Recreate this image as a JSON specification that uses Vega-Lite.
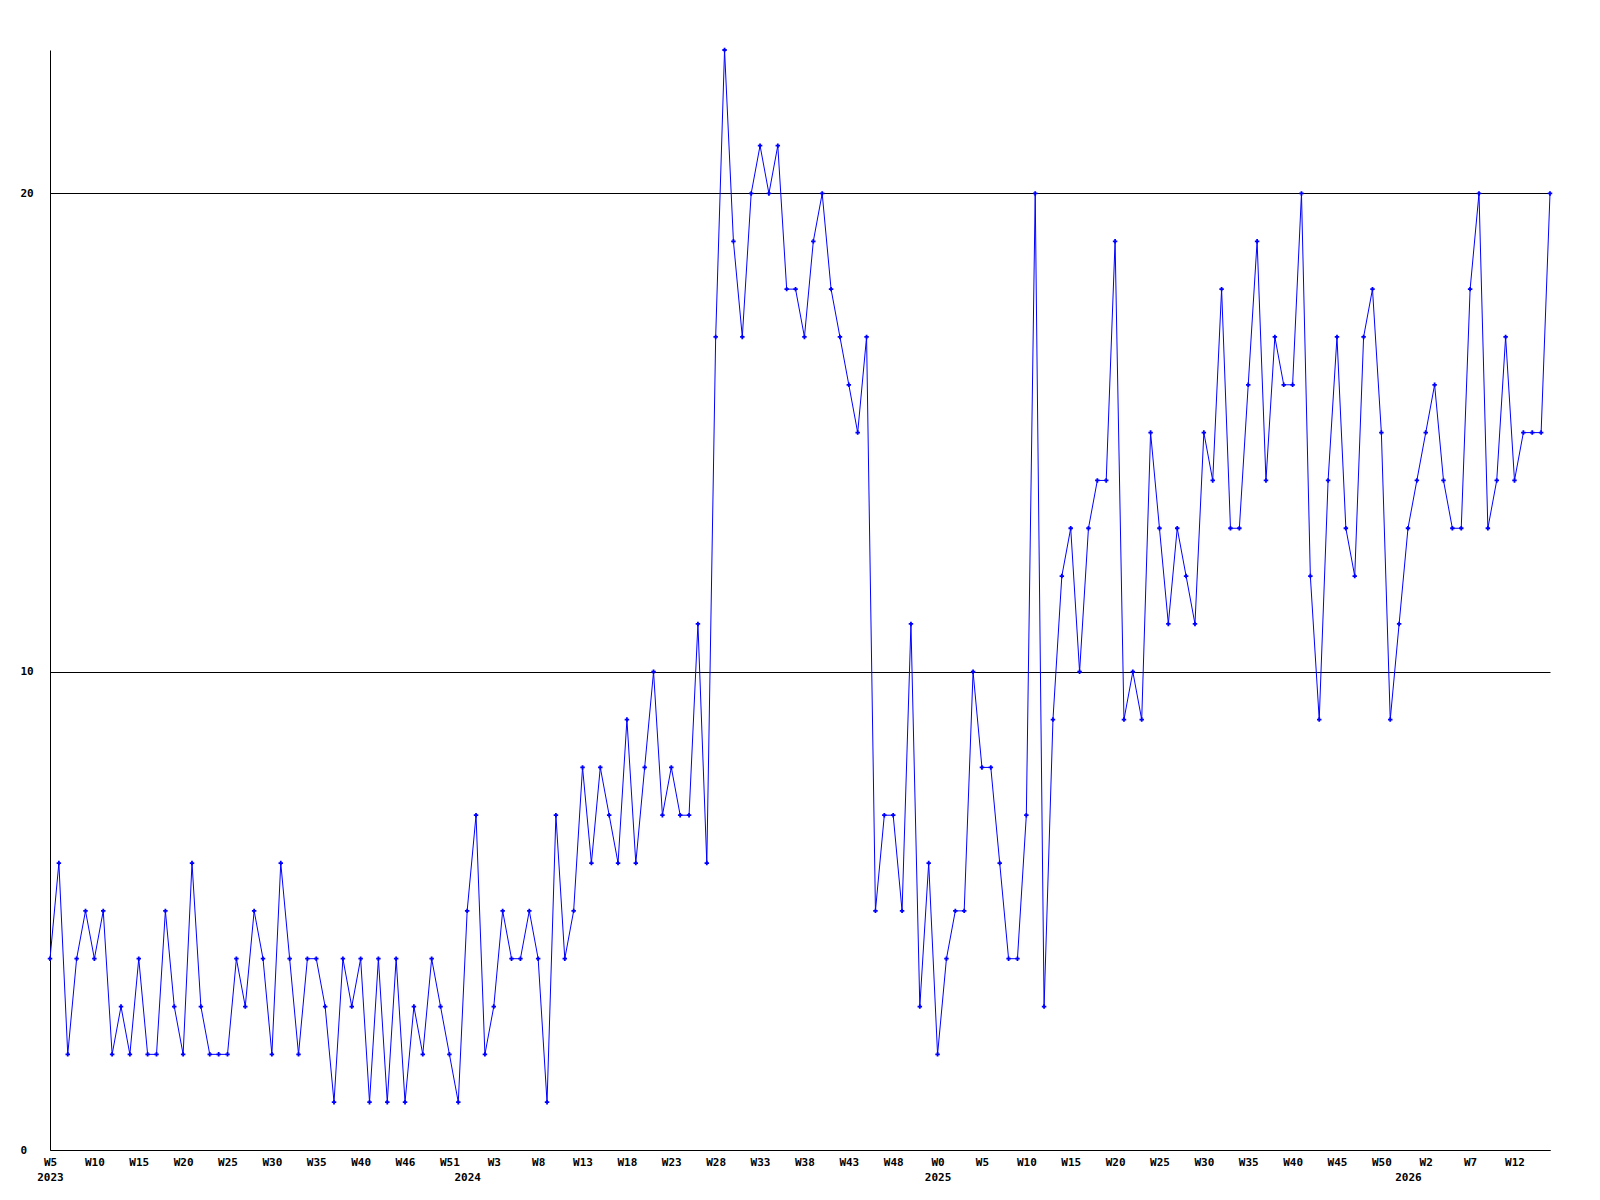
{
  "$schema": "https://vega.github.io/schema/vega-lite/v6.json",
  "width": 1500,
  "height": 1100,
  "autosize": {"type": "none"},
  "padding": {"left": 50, "top": 50, "right": 50, "bottom": 50},
  "background": "white",
  "config": {
    "view": {"stroke": null},
    "axis": {"labelFont": "DejaVu Sans Mono", "labelFontWeight": "bold", "labelFontSize": 11, "labelColor": "black"}
  },
  "data": {"values": [
    {"period": "2023-W05", "value": 4}, {"period": "2023-W06", "value": 6}, {"period": "2023-W07", "value": 2}, {"period": "2023-W08", "value": 4}, {"period": "2023-W09", "value": 5},
    {"period": "2023-W10", "value": 4}, {"period": "2023-W11", "value": 5}, {"period": "2023-W12", "value": 2}, {"period": "2023-W13", "value": 3}, {"period": "2023-W14", "value": 2},
    {"period": "2023-W15", "value": 4}, {"period": "2023-W16", "value": 2}, {"period": "2023-W17", "value": 2}, {"period": "2023-W18", "value": 5}, {"period": "2023-W19", "value": 3},
    {"period": "2023-W20", "value": 2}, {"period": "2023-W21", "value": 6}, {"period": "2023-W22", "value": 3}, {"period": "2023-W23", "value": 2}, {"period": "2023-W24", "value": 2},
    {"period": "2023-W25", "value": 2}, {"period": "2023-W26", "value": 4}, {"period": "2023-W27", "value": 3}, {"period": "2023-W28", "value": 5}, {"period": "2023-W29", "value": 4},
    {"period": "2023-W30", "value": 2}, {"period": "2023-W31", "value": 6}, {"period": "2023-W32", "value": 4}, {"period": "2023-W33", "value": 2}, {"period": "2023-W34", "value": 4},
    {"period": "2023-W35", "value": 4}, {"period": "2023-W36", "value": 3}, {"period": "2023-W37", "value": 1}, {"period": "2023-W38", "value": 4}, {"period": "2023-W39", "value": 3},
    {"period": "2023-W40", "value": 4}, {"period": "2023-W41", "value": 1}, {"period": "2023-W42", "value": 4}, {"period": "2023-W43", "value": 1}, {"period": "2023-W44", "value": 4},
    {"period": "2023-W46", "value": 1}, {"period": "2023-W47", "value": 3}, {"period": "2023-W48", "value": 2}, {"period": "2023-W49", "value": 4}, {"period": "2023-W50", "value": 3},
    {"period": "2023-W51", "value": 2}, {"period": "2023-W52", "value": 1}, {"period": "2024-W00", "value": 5}, {"period": "2024-W01", "value": 7}, {"period": "2024-W02", "value": 2},
    {"period": "2024-W03", "value": 3}, {"period": "2024-W04", "value": 5}, {"period": "2024-W05", "value": 4}, {"period": "2024-W06", "value": 4}, {"period": "2024-W07", "value": 5},
    {"period": "2024-W08", "value": 4}, {"period": "2024-W09", "value": 1}, {"period": "2024-W10", "value": 7}, {"period": "2024-W11", "value": 4}, {"period": "2024-W12", "value": 5},
    {"period": "2024-W13", "value": 8}, {"period": "2024-W14", "value": 6}, {"period": "2024-W15", "value": 8}, {"period": "2024-W16", "value": 7}, {"period": "2024-W17", "value": 6},
    {"period": "2024-W18", "value": 9}, {"period": "2024-W19", "value": 6}, {"period": "2024-W20", "value": 8}, {"period": "2024-W21", "value": 10}, {"period": "2024-W22", "value": 7},
    {"period": "2024-W23", "value": 8}, {"period": "2024-W24", "value": 7}, {"period": "2024-W25", "value": 7}, {"period": "2024-W26", "value": 11}, {"period": "2024-W27", "value": 6},
    {"period": "2024-W28", "value": 17}, {"period": "2024-W29", "value": 23}, {"period": "2024-W30", "value": 19}, {"period": "2024-W31", "value": 17}, {"period": "2024-W32", "value": 20},
    {"period": "2024-W33", "value": 21}, {"period": "2024-W34", "value": 20}, {"period": "2024-W35", "value": 21}, {"period": "2024-W36", "value": 18}, {"period": "2024-W37", "value": 18},
    {"period": "2024-W38", "value": 17}, {"period": "2024-W39", "value": 19}, {"period": "2024-W40", "value": 20}, {"period": "2024-W41", "value": 18}, {"period": "2024-W42", "value": 17},
    {"period": "2024-W43", "value": 16}, {"period": "2024-W44", "value": 15}, {"period": "2024-W45", "value": 17}, {"period": "2024-W46", "value": 5}, {"period": "2024-W47", "value": 7},
    {"period": "2024-W48", "value": 7}, {"period": "2024-W49", "value": 5}, {"period": "2024-W50", "value": 11}, {"period": "2024-W51", "value": 3}, {"period": "2024-W52", "value": 6},
    {"period": "2025-W00", "value": 2}, {"period": "2025-W01", "value": 4}, {"period": "2025-W02", "value": 5}, {"period": "2025-W03", "value": 5}, {"period": "2025-W04", "value": 10},
    {"period": "2025-W05", "value": 8}, {"period": "2025-W06", "value": 8}, {"period": "2025-W07", "value": 6}, {"period": "2025-W08", "value": 4}, {"period": "2025-W09", "value": 4},
    {"period": "2025-W10", "value": 7}, {"period": "2025-W11", "value": 20}, {"period": "2025-W12", "value": 3}, {"period": "2025-W13", "value": 9}, {"period": "2025-W14", "value": 12},
    {"period": "2025-W15", "value": 13}, {"period": "2025-W16", "value": 10}, {"period": "2025-W17", "value": 13}, {"period": "2025-W18", "value": 14}, {"period": "2025-W19", "value": 14},
    {"period": "2025-W20", "value": 19}, {"period": "2025-W21", "value": 9}, {"period": "2025-W22", "value": 10}, {"period": "2025-W23", "value": 9}, {"period": "2025-W24", "value": 15},
    {"period": "2025-W25", "value": 13}, {"period": "2025-W26", "value": 11}, {"period": "2025-W27", "value": 13}, {"period": "2025-W28", "value": 12}, {"period": "2025-W29", "value": 11},
    {"period": "2025-W30", "value": 15}, {"period": "2025-W31", "value": 14}, {"period": "2025-W32", "value": 18}, {"period": "2025-W33", "value": 13}, {"period": "2025-W34", "value": 13},
    {"period": "2025-W35", "value": 16}, {"period": "2025-W36", "value": 19}, {"period": "2025-W37", "value": 14}, {"period": "2025-W38", "value": 17}, {"period": "2025-W39", "value": 16},
    {"period": "2025-W40", "value": 16}, {"period": "2025-W41", "value": 20}, {"period": "2025-W42", "value": 12}, {"period": "2025-W43", "value": 9}, {"period": "2025-W44", "value": 14},
    {"period": "2025-W45", "value": 17}, {"period": "2025-W46", "value": 13}, {"period": "2025-W47", "value": 12}, {"period": "2025-W48", "value": 17}, {"period": "2025-W49", "value": 18},
    {"period": "2025-W50", "value": 15}, {"period": "2025-W51", "value": 9}, {"period": "2025-W52", "value": 11}, {"period": "2026-W00", "value": 13}, {"period": "2026-W01", "value": 14},
    {"period": "2026-W02", "value": 15}, {"period": "2026-W03", "value": 16}, {"period": "2026-W04", "value": 14}, {"period": "2026-W05", "value": 13}, {"period": "2026-W06", "value": 13},
    {"period": "2026-W07", "value": 18}, {"period": "2026-W08", "value": 20}, {"period": "2026-W09", "value": 13}, {"period": "2026-W10", "value": 14}, {"period": "2026-W11", "value": 17},
    {"period": "2026-W12", "value": 14}, {"period": "2026-W13", "value": 15}, {"period": "2026-W14", "value": 15}, {"period": "2026-W15", "value": 15}, {"period": "2026-W16", "value": 20}
  ]},
  "layer": [
    {
      "mark": {"type": "line", "color": "#0000ff", "strokeWidth": 1, "point": {"shape": "cross", "filled": true, "size": 20, "color": "#0000ff"}},
      "encoding": {
        "x": {
          "field": "period", "type": "ordinal", "sort": null,
          "scale": {"type": "point", "padding": 0},
          "axis": {
            "title": null, "orient": "bottom", "ticks": false, "tickSize": 0, "grid": false,
            "domainColor": "black", "domainWidth": 1, "labelAngle": 0, "labelAlign": "center", "labelBaseline": "top",
            "labelPadding": 6, "labelOverlap": false, "labelFlush": false,
            "values": ["2023-W05", "2023-W10", "2023-W15", "2023-W20", "2023-W25", "2023-W30", "2023-W35", "2023-W40", "2023-W46", "2023-W51",
                       "2024-W03", "2024-W08", "2024-W13", "2024-W18", "2024-W23", "2024-W28", "2024-W33", "2024-W38", "2024-W43", "2024-W48",
                       "2025-W00", "2025-W05", "2025-W10", "2025-W15", "2025-W20", "2025-W25", "2025-W30", "2025-W35", "2025-W40", "2025-W45", "2025-W50",
                       "2026-W02", "2026-W07", "2026-W12"],
            "labelExpr": "'W' + toNumber(slice(datum.value, 6))"
          }
        },
        "y": {
          "field": "value", "type": "quantitative",
          "scale": {"domain": [0, 23], "nice": false},
          "axis": {
            "title": null, "values": [0, 10, 20], "grid": true, "gridColor": "black", "gridOpacity": 1, "gridWidth": 1,
            "domainColor": "black", "domainWidth": 1, "ticks": false, "tickSize": 0,
            "labelAlign": "left", "labelBaseline": "middle", "labelPadding": 30
          }
        }
      }
    },
    {
      "mark": {"type": "point", "opacity": 0},
      "encoding": {
        "x": {
          "field": "period", "type": "ordinal", "sort": null,
          "scale": {"type": "point", "padding": 0},
          "axis": {
            "title": null, "orient": "bottom", "ticks": false, "tickSize": 0, "grid": false, "domain": false,
            "labelAngle": 0, "labelAlign": "center", "labelBaseline": "top",
            "labelPadding": 21, "labelOverlap": false, "labelFlush": false,
            "values": ["2023-W05", "2024-W00", "2025-W00", "2026-W00"],
            "labelExpr": "slice(datum.value, 0, 4)"
          }
        },
        "y": {
          "field": "value", "type": "quantitative",
          "scale": {"domain": [0, 23], "nice": false},
          "axis": {
            "title": null, "values": [0, 10, 20], "grid": true, "gridColor": "black", "gridOpacity": 1, "gridWidth": 1,
            "domainColor": "black", "domainWidth": 1, "ticks": false, "tickSize": 0,
            "labelAlign": "left", "labelBaseline": "middle", "labelPadding": 30
          }
        }
      }
    }
  ],
  "resolve": {"axis": {"x": "independent"}}
}
